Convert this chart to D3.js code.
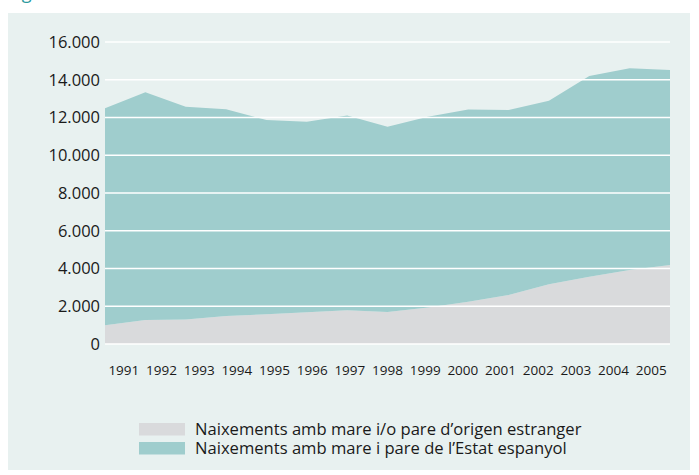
<!DOCTYPE html>
<html>
<head>
<meta charset="utf-8">
<script src="https://cdn.jsdelivr.net/npm/d3@7"></script>
<style>
  html, body { margin: 0; padding: 0; background: #ffffff; }
  svg { display: block; font-family: 'Open Sans', 'Noto Sans', sans-serif; }
</style>
</head>
<body>
<svg id="chart" width="699" height="475"></svg>
<script>
// Data
const years = [1991, 1992, 1993, 1994, 1995, 1996, 1997, 1998, 1999, 2000, 2001, 2002, 2003, 2004, 2005];
const foreignBirths = [1000, 1270, 1300, 1480, 1580, 1680, 1790, 1690, 1940, 2240, 2600, 3160, 3560, 3920, 4180];
const spanishBirths = [11490, 12070, 11270, 10960, 10290, 10090, 10310, 9820, 10100, 10190, 9800, 9730, 10640, 10690, 10340];
const yTicks = [0, 2000, 4000, 6000, 8000, 10000, 12000, 14000, 16000];
const seriesNames = [
  'Naixements amb mare i/o pare d\u2019origen estranger',
  'Naixements amb mare i pare de l\u2019Estat espanyol'
];
const seriesColors = ['#d9dadc', '#9fcdcd'];

(function() {
  'use strict';

  const svg = d3.select('#chart');

  // panel background
  svg.append('rect')
    .attr('x', 8).attr('y', 13)
    .attr('width', 682).attr('height', 457)
    .attr('fill', '#e8f1f0');

  // cropped title (only the descender shows)
  svg.append('text')
    .attr('x', 8).attr('y', -1)
    .attr('font-size', 18)
    .attr('fill', '#2b9a9e')
    .text('Figura');

  const left = 105, right = 670, top = 42, bottom = 344;

  const x = d3.scalePoint().domain(years).range([left, right]);
  const xBand = d3.scaleBand().domain(years).range([left, right]);
  const y = d3.scaleLinear().domain([0, 16000]).range([bottom, top]);

  const rows = years.map((yr, i) => ({ year: yr, foreign: foreignBirths[i], spanish: spanishBirths[i] }));
  const stack = d3.stack().keys(['foreign', 'spanish']);
  const layers = stack(rows);

  const area = d3.area()
    .x(d => x(d.data.year))
    .y0(d => y(d[0]))
    .y1(d => y(d[1]));

  svg.append('g')
    .selectAll('path')
    .data(layers)
    .join('path')
    .attr('d', area)
    .attr('fill', (d, i) => seriesColors[i]);

  // gridlines on top of the areas
  svg.append('g')
    .selectAll('line')
    .data(yTicks)
    .join('line')
    .attr('x1', left).attr('x2', right)
    .attr('y1', d => y(d)).attr('y2', d => y(d))
    .attr('stroke', '#ffffff')
    .attr('stroke-width', 1.5);

  // y axis labels
  const fmt = v => d3.format(',')(v).replace(/,/g, '.');
  const yAxis = d3.axisLeft(y).tickValues(yTicks).tickFormat(fmt).tickSize(0).tickPadding(5);
  const gy = svg.append('g').attr('transform', `translate(${left},0)`).call(yAxis);
  gy.select('.domain').remove();
  gy.selectAll('text')
    .attr('font-family', "'Open Sans', sans-serif")
    .attr('font-size', 16.5)
    .attr('fill', '#1a1a1a');

  // x axis labels, centred in bands
  const xAxis = d3.axisBottom(xBand).tickSize(0).tickPadding(0);
  const gx = svg.append('g').attr('transform', `translate(0,${bottom + 21})`).call(xAxis);
  gx.select('.domain').remove();
  gx.selectAll('text')
    .attr('font-family', "'Open Sans', sans-serif")
    .attr('font-size', 13.5)
    .attr('fill', '#1a1a1a');

  // legend
  const legend = svg.append('g').attr('transform', 'translate(139,423)');
  const item = legend.selectAll('g')
    .data(seriesNames)
    .join('g')
    .attr('transform', (d, i) => `translate(0,${i * 19})`);
  item.append('rect')
    .attr('width', 46).attr('height', 12.5)
    .attr('fill', (d, i) => seriesColors[i]);
  item.append('text')
    .attr('x', 56).attr('y', 6.5)
    .attr('dy', '0.35em')
    .attr('font-size', 16.6)
    .attr('fill', '#1a1a1a')
    .text(d => d);
})();
</script>
</body>
</html>
